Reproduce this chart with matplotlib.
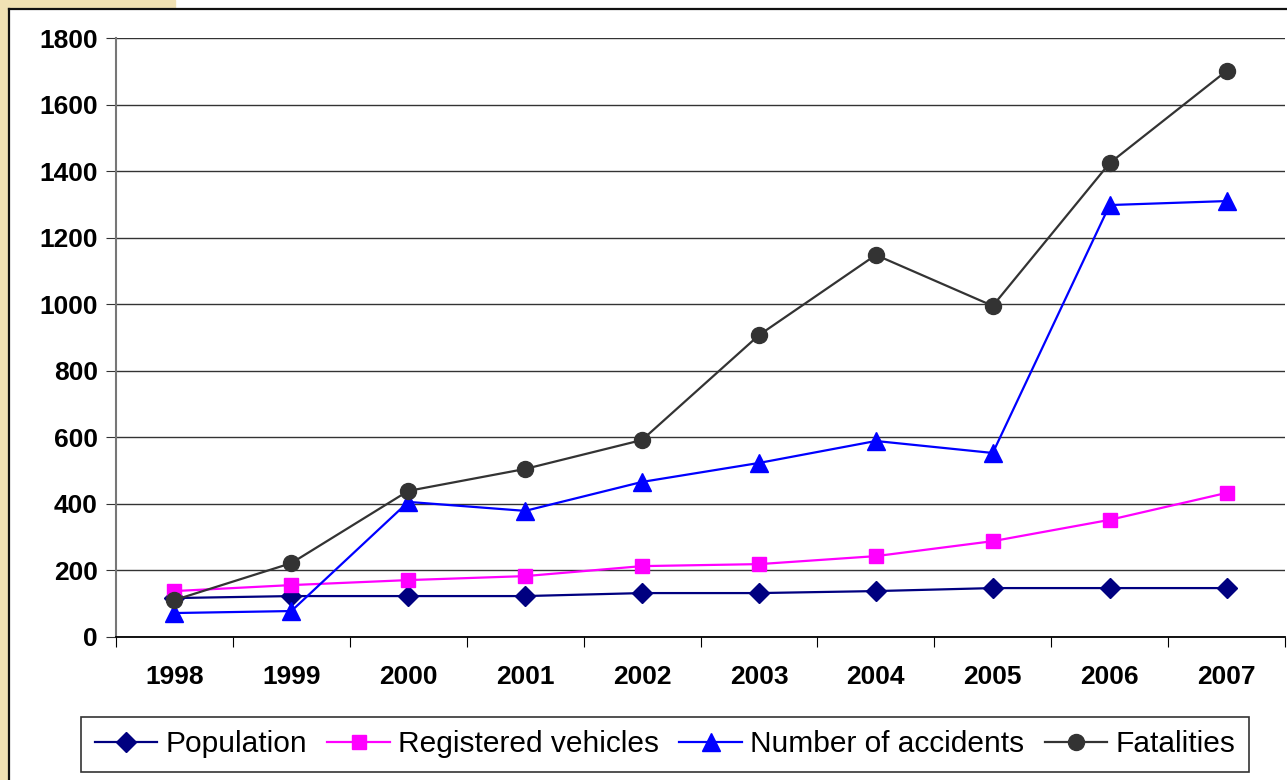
import numpy as np
import matplotlib.pyplot as plt
from matplotlib.patches import Rectangle
from matplotlib.lines import Line2D

years = ['1998', '1999', '2000', '2001', '2002', '2003', '2004', '2005', '2006', '2007']
population = [117, 123, 123, 123, 132, 132, 138, 147, 147, 147]
vehicles = [138, 156, 171, 183, 213, 219, 243, 288, 352, 433]
accidents = [72, 78, 406, 379, 466, 523, 589, 553, 1298, 1310]
fatalities = [111, 222, 439, 505, 592, 907, 1148, 995, 1424, 1701]
yticks = [0, 200, 400, 600, 800, 1000, 1200, 1400, 1600, 1800]

plt.rcParams['font.family'] = ['Liberation Sans', 'DejaVu Sans']

W, H = 1287, 780
fig = plt.figure(figsize=(W / 100, H / 100), dpi=100)

# beige slide background strips and chart frame
beige = '#F0E1B4'
fig.patches.append(Rectangle((0, 0), 8 / W, 1, transform=fig.transFigure, color=beige, zorder=0))
fig.patches.append(Rectangle((0, 1 - 8 / H), 175 / W, 8 / H, transform=fig.transFigure, color=beige, zorder=0))
fig.lines.append(Line2D([8.5 / W, 8.5 / W], [0, 1 - 8.5 / H], transform=fig.transFigure, color='#111111', lw=1.6))
fig.lines.append(Line2D([8.5 / W, 1], [1 - 8.5 / H, 1 - 8.5 / H], transform=fig.transFigure, color='#111111', lw=1.6))

ax = fig.add_axes([116 / W, 1 - 637 / H, 1169 / W, 599 / H])
x = np.arange(len(years))

ax.plot(x, population, color='#000080', lw=1.6, marker='D', ms=10, label='Population', zorder=3)
ax.plot(x, vehicles, color='#FF00FF', lw=1.6, marker='s', ms=10, label='Registered vehicles', zorder=3)
ax.plot(x, accidents, color='#0000FF', lw=1.6, marker='^', ms=13, label='Number of accidents', zorder=3)
ax.plot(x, fatalities, color='#333333', lw=1.6, marker='o', ms=11.5, label='Fatalities', zorder=4)

ax.set_xlim(-0.5, len(years) - 0.5)
ax.set_ylim(0, 1800)
ax.set_yticks(yticks)
ax.set_yticklabels([str(v) for v in yticks], fontsize=19, fontweight='bold')
ax.yaxis.grid(True, color='#333333', lw=1)
ax.set_axisbelow(True)

ax.set_xticks(np.arange(-0.5, len(years), 1))
ax.set_xticklabels([])
ax.set_xticks(x, minor=True)
ax.set_xticklabels(years, minor=True, fontsize=19, fontweight='bold')
ax.tick_params(axis='x', which='minor', length=0, pad=20)
ax.tick_params(axis='x', which='major', length=7, color='black')
ax.tick_params(axis='y', length=7, pad=6, color='#333333')

for s in ['top', 'right']:
    ax.spines[s].set_visible(False)
ax.spines['left'].set_color('#777777')
ax.spines['left'].set_linewidth(1.5)
ax.spines['bottom'].set_color('black')
ax.spines['bottom'].set_linewidth(1.3)

leg = fig.legend(loc='center', bbox_to_anchor=(665 / W, 1 - 744.5 / H), ncol=4,
                 fontsize=21.5, frameon=True, fancybox=False, handlelength=2.1,
                 handletextpad=0.27, columnspacing=0.68, borderpad=0.45,
                 borderaxespad=0)
leg.get_frame().set_edgecolor('black')
leg.get_frame().set_linewidth(1.2)

fig.savefig('out.png', dpi=100)
